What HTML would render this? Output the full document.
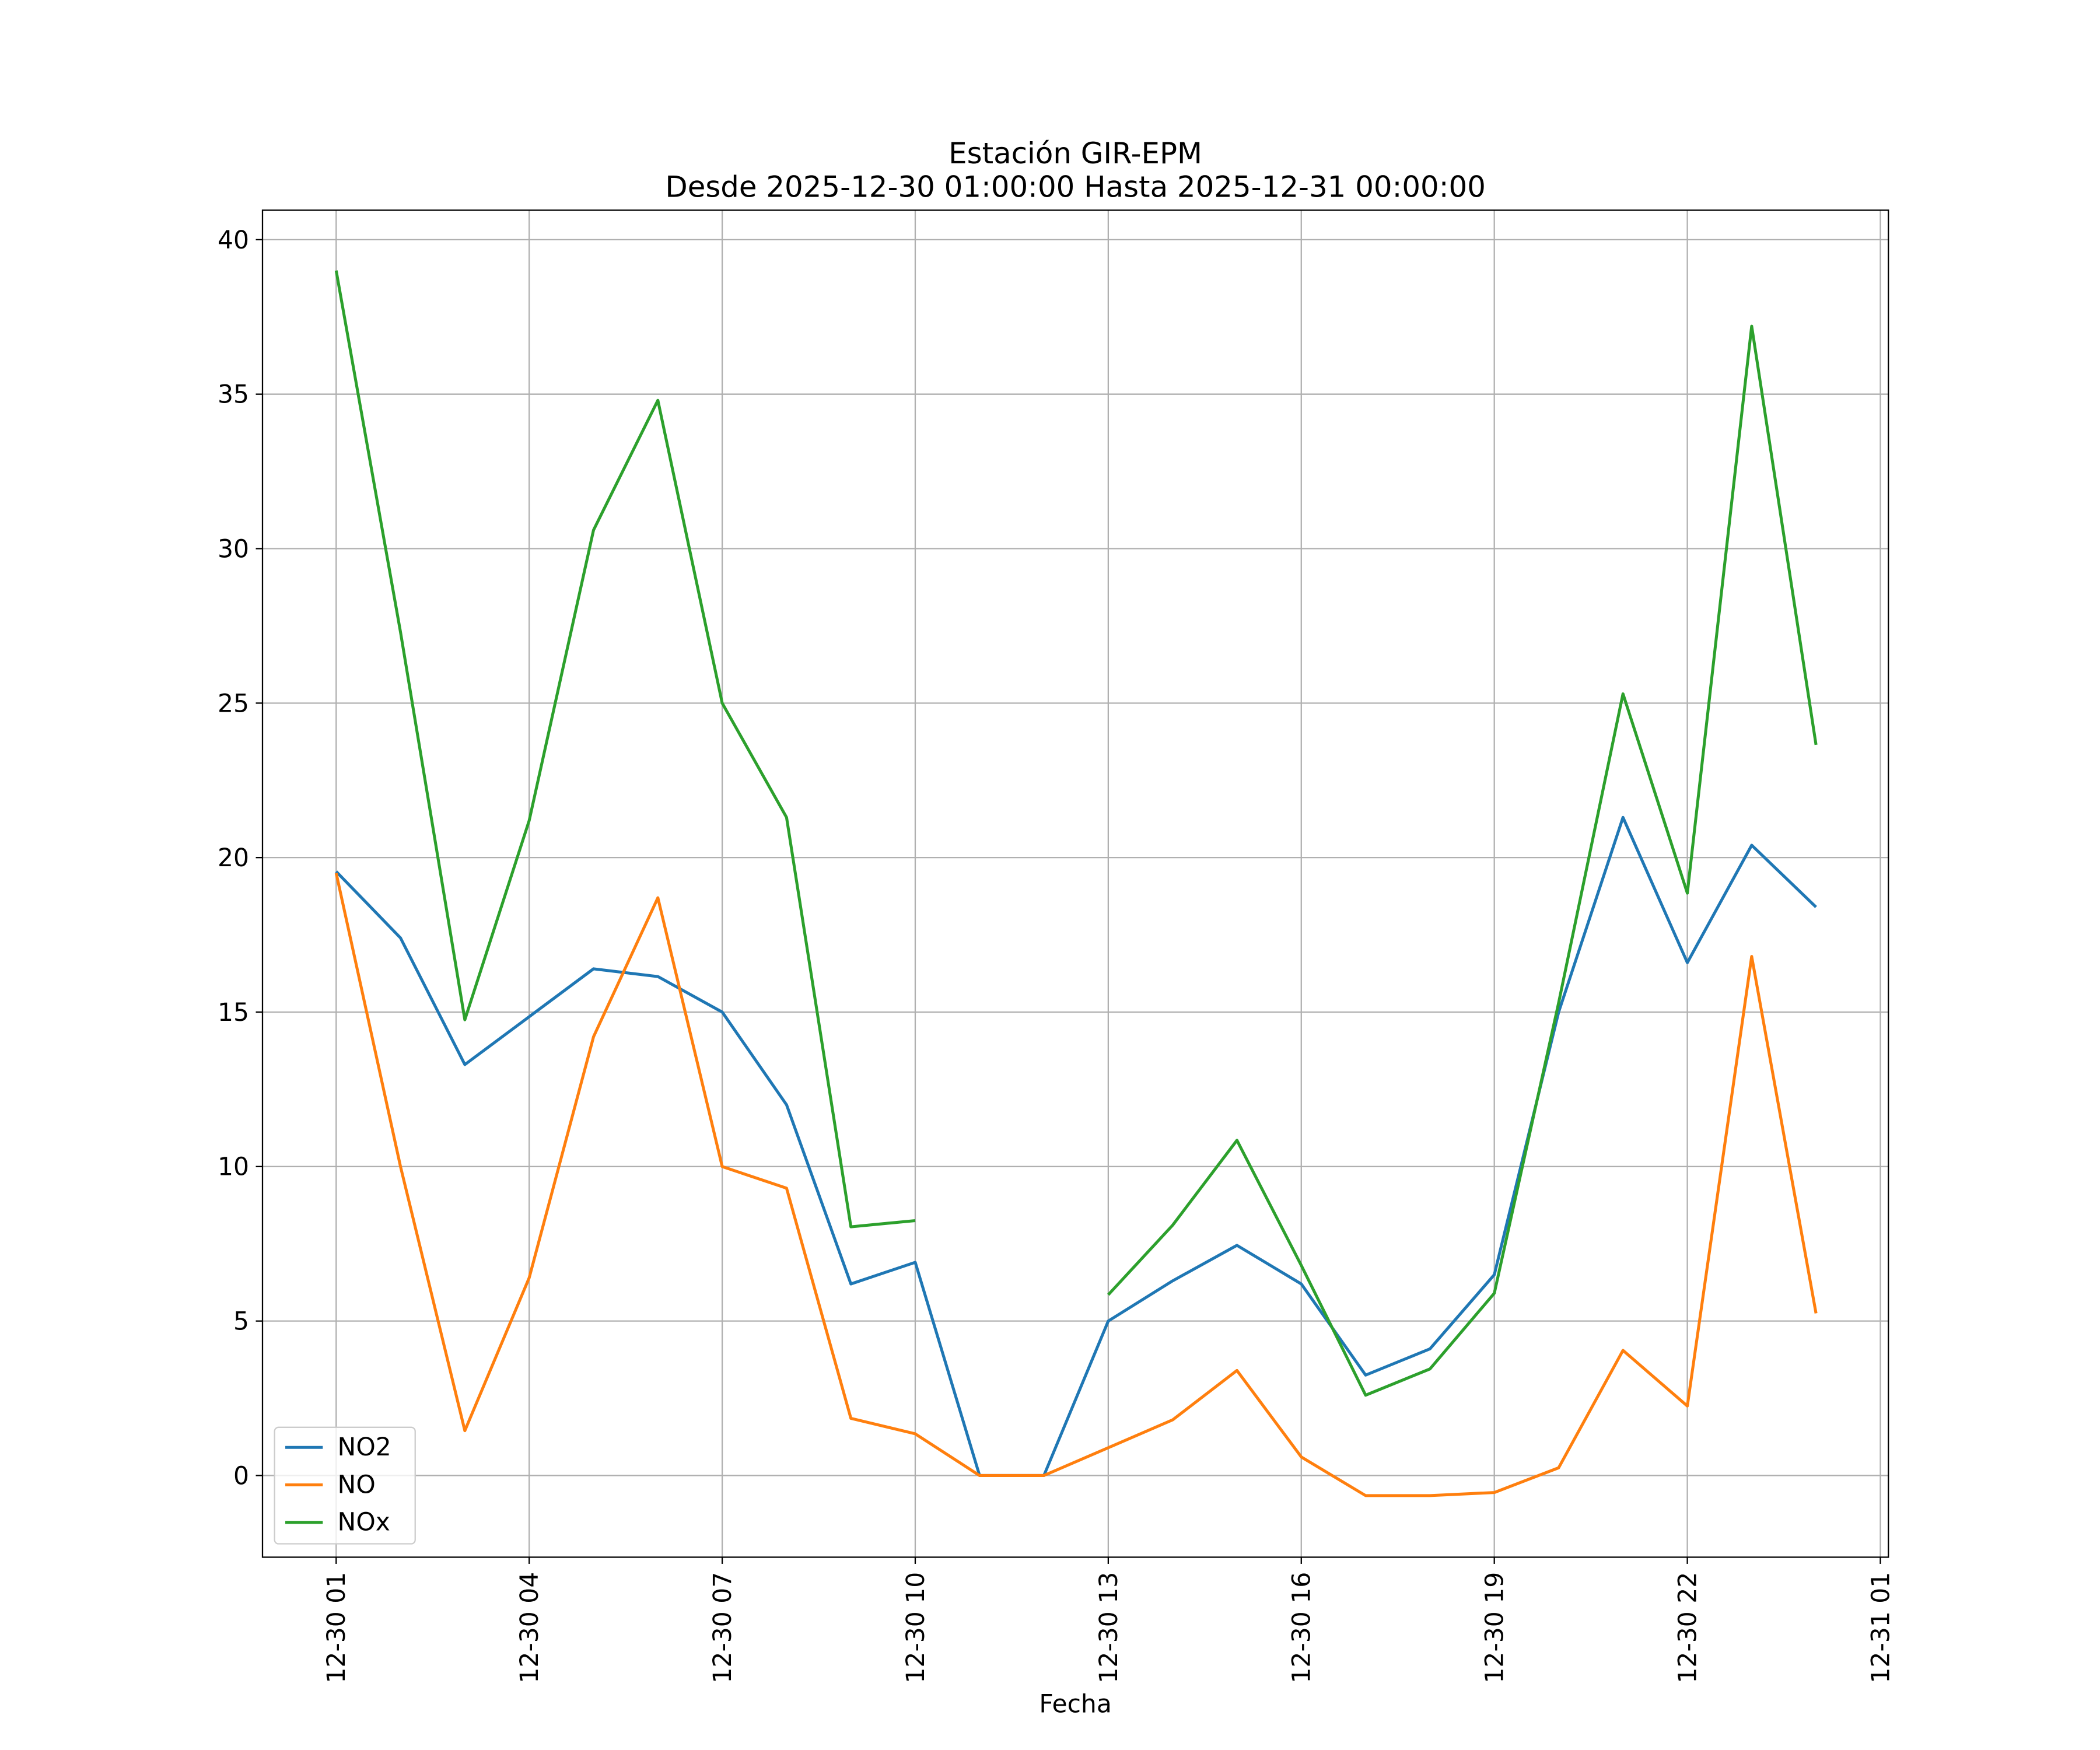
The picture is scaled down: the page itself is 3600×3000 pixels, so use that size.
<!DOCTYPE html>
<html><head><meta charset="utf-8"><style>
html,body{margin:0;padding:0;background:#fff;}
svg{display:block;font-family:"DejaVu Sans","Liberation Sans",sans-serif;}
</style></head><body>
<svg id="chart" width="3600" height="3000" viewBox="0 0 1568 1307" preserveAspectRatio="none" xmlns="http://www.w3.org/2000/svg">
<rect width="1568" height="1307" fill="#fff"/>
<g id="grid"></g>
<g id="series"></g>
<rect x="196" y="157" width="1214" height="1006" fill="none" stroke="#000" stroke-width="1"/>
<g id="ticks" font-size="18.5" fill="#000"></g>
<text x="803" y="122" text-anchor="middle" font-size="21.7">Estación GIR-EPM</text>
<text x="803" y="147" text-anchor="middle" font-size="21.7">Desde 2025-12-30 01:00:00 Hasta 2025-12-31 00:00:00</text>
<text x="803" y="1279" text-anchor="middle" font-size="18.5">Fecha</text>
<g>
<rect x="205" y="1066" width="105" height="87" rx="3" fill="#fff" fill-opacity="0.8" stroke="#ccc"/>
<line x1="213" y1="1081" x2="241" y2="1081" stroke="#1f77b4" stroke-width="2.2"/>
<text x="252" y="1087" font-size="18.5">NO2</text>
<line x1="213" y1="1109" x2="241" y2="1109" stroke="#ff7f0e" stroke-width="2.2"/>
<text x="252" y="1115" font-size="18.5">NO</text>
<line x1="213" y1="1137" x2="241" y2="1137" stroke="#2ca02c" stroke-width="2.2"/>
<text x="252" y="1143" font-size="18.5">NOx</text>
</g>
</svg>
<script>
const hours = [0,1,2,3,4,5,6,7,8,9,10,11,12,13,14,15,16,17,18,19,20,21,22,23];
const no2 = [19.55,17.4,13.3,14.85,16.4,16.15,15.0,12.0,6.2,6.9,0,0,5.0,6.3,7.45,6.2,3.25,4.1,6.5,15.0,21.3,16.6,20.4,18.4];
const no = [19.5,10.0,1.45,6.4,14.2,18.7,10.0,9.3,1.85,1.35,0,0,0.9,1.8,3.4,0.6,-0.65,-0.65,-0.55,0.25,4.05,2.25,16.8,5.25];
const nox = [39.0,27.3,14.75,21.2,30.6,34.8,25.0,21.3,8.05,8.25,null,null,5.85,8.1,10.85,6.8,2.6,3.45,5.9,15.3,25.3,18.85,37.2,23.65];
const yTicks = [0,5,10,15,20,25,30,35,40];
const xTickHours = [0,3,6,9,12,15,18,21,24];
const xTickLabels = ["12-30 01","12-30 04","12-30 07","12-30 10","12-30 13","12-30 16","12-30 19","12-30 22","12-31 01"];

const NS="http://www.w3.org/2000/svg";
const X = h => 251 + h*(1404-251)/24;
const Y = v => 1102 - v*(1102-179)/40;
function mk(tag, attrs, parent){const e=document.createElementNS(NS,tag);for(const k in attrs)e.setAttribute(k,attrs[k]);parent.appendChild(e);return e;}
const grid=document.getElementById('grid'), ticks=document.getElementById('ticks'), series=document.getElementById('series');
yTicks.forEach(v=>{
  const l=mk('line',{x1:196,x2:1410,y1:Y(v),y2:Y(v),stroke:'#b0b0b0','stroke-width':1},grid);
  
  
  mk('line',{x1:191,x2:196,y1:Y(v),y2:Y(v),stroke:'#000'},ticks);
  const t=mk('text',{x:186,y:Y(v)+6.5,'text-anchor':'end'},ticks);
  
  
  t.textContent=v;
});
xTickHours.forEach((h,i)=>{
  const l=mk('line',{x1:X(h),x2:X(h),y1:157,y2:1163,stroke:'#b0b0b0','stroke-width':1},grid);
  
  
  mk('line',{x1:X(h),x2:X(h),y1:1163,y2:1168,stroke:'#000'},ticks);
  const t=mk('text',{x:0,y:0,'text-anchor':'end',transform:`translate(${X(h)+6.5},1174) rotate(-90)`},ticks);
  
  
  t.textContent=xTickLabels[i];
});
function draw(vals,color,name){
  let d='',pen=false;
  vals.forEach((v,i)=>{ if(v===null){pen=false;return;} d+=(pen?'L':'M')+X(hours[i]).toFixed(2)+' '+Y(v).toFixed(2)+' '; pen=true;});
  const p=mk('path',{d,fill:'none',stroke:color,'stroke-width':2.2,'stroke-linejoin':'round'},series);
  
  
}
draw(no2,'#1f77b4','no2-line');
draw(no,'#ff7f0e','no-line');
draw(nox,'#2ca02c','nox-line');
</script>
</body></html>
